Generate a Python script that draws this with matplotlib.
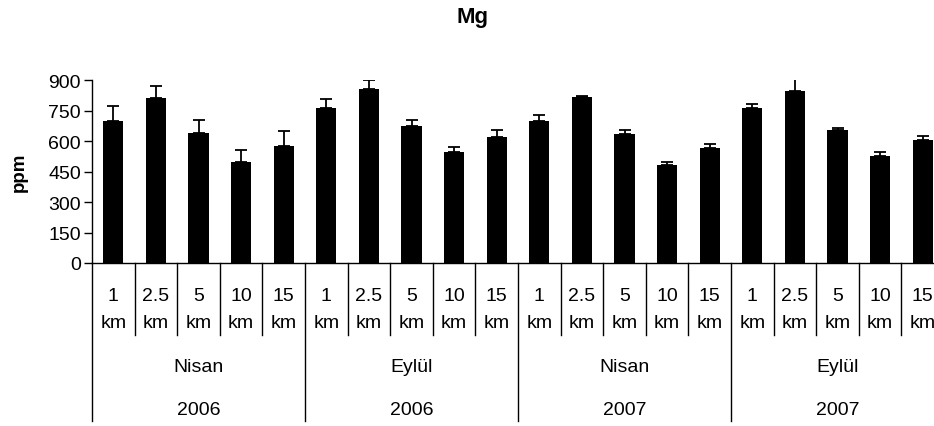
import matplotlib
matplotlib.use('Agg')
import matplotlib.pyplot as plt
import matplotlib.transforms as mtransforms
import numpy as np

plt.rcParams['font.family'] = ['Liberation Sans', 'DejaVu Sans']

# data
distances = ['1', '2.5', '5', '10', '15']
seasons = ['Nisan', 'Eylül', 'Nisan', 'Eylül']
years = ['2006', '2006', '2007', '2007']
mg_mean = [698, 814, 640, 499, 578,
           762, 857, 673, 547, 621,
           700, 816, 635, 484, 565,
           762, 847, 654, 526, 606]
mg_err = [75, 57, 63, 57, 72,
          46, 46, 31, 24, 36,
          29, 8, 21, 15, 23,
          21, 68, 13, 21, 20]

W, H = 934, 427
FS = 14
fig = plt.figure(figsize=(W / 100, H / 100), dpi=100)
# axes runs a bit past the right edge, like the reference
ax = fig.add_axes([92 / W, 1 - 264 / H, 852 / W, 182.7 / H])

n = len(mg_mean)
x = np.arange(n)
ax.bar(x, mg_mean, width=0.47, color='black')
ax.errorbar(x, mg_mean, yerr=[np.zeros(n), mg_err], fmt='none',
            ecolor='black', elinewidth=1.3, capsize=4.2, capthick=1.3)

ax.set_xlim(-0.5, n - 0.5)
ax.set_ylim(0, 900)
ax.set_yticks(np.arange(0, 901, 150))
ax.tick_params(axis='y', direction='out', length=6, width=1, labelsize=FS, pad=2)
ax.set_xticks([])
for s in ['top', 'right']:
    ax.spines[s].set_visible(False)
for s in ['left', 'bottom']:
    ax.spines[s].set_linewidth(1)

fig.text(19 / W, 1 - 172.5 / H, 'ppm', fontsize=13.5, fontweight='bold',
         rotation=90, ha='center', va='center')
fig.text(472 / W, 1 - 17 / H, 'Mg', fontsize=16, fontweight='bold',
         ha='center', va='center')

# multi-level category labels below the axis (y in figure pixels)
tr = mtransforms.blended_transform_factory(ax.transData, fig.transFigure)
def fy(px):
    return 1 - px / H

for i in range(n):
    d = distances[i % len(distances)]
    ax.text(i, fy(301.5), d, transform=tr, ha='center', va='baseline', fontsize=FS)
    ax.text(i, fy(328), 'km', transform=tr, ha='center', va='baseline', fontsize=FS)

for b in range(n + 1):
    xb = b - 0.5
    bottom = 422 if b % 5 == 0 else 336
    ax.plot([xb, xb], [fy(264), fy(bottom)], transform=tr, color='black',
            lw=1, clip_on=False)

for g in range(len(seasons)):
    xc = g * 5 + 2
    ax.text(xc, fy(372.5), seasons[g], transform=tr, ha='center',
            va='baseline', fontsize=FS)
    ax.text(xc, fy(415), years[g], transform=tr, ha='center',
            va='baseline', fontsize=FS)

fig.savefig('out.png', dpi=100)
